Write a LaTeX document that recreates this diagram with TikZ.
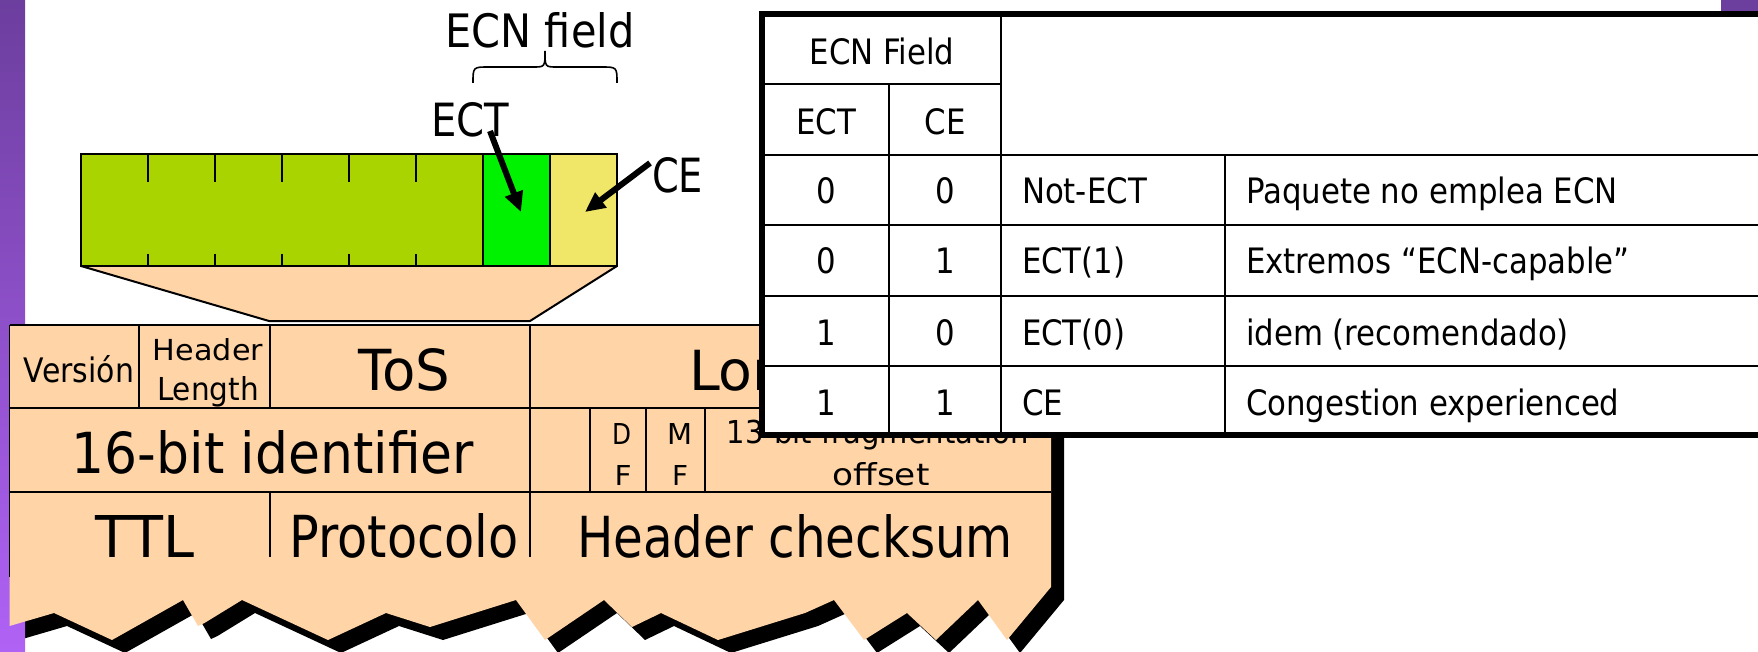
\documentclass[tikz,border=0pt]{standalone}
\usepackage{fontspec}
\usepackage{graphicx}
\setmainfont{DejaVu Sans}
\newfontfamily\tabfont[FakeStretch=0.88]{DejaVu Sans}
\usetikzlibrary{arrows.meta}

\definecolor{leaf}{RGB}{170,212,0}
\definecolor{ectgreen}{RGB}{0,242,0}
\definecolor{ceyellow}{RGB}{240,230,104}
\definecolor{peach}{RGB}{255,213,168}
\definecolor{plumtop}{RGB}{108,62,158}
\definecolor{plumbot}{RGB}{176,98,245}

% text squeezed into a given width and height (in px = pt)
\newcommand{\fitbox}[3]{\resizebox{#1pt}{#2pt}{#3}}

\tikzset{
  lbl/.style={inner sep=0pt, outer sep=0pt, anchor=base},
  tabtxt/.style={inner sep=0pt, outer sep=0pt, anchor=base,
                 font=\tabfont\fontsize{35}{40}\selectfont},
  gridline/.style={line width=1.5pt},
  tabline/.style={line width=2.2pt},
  tabframe/.style={line width=6pt},
  pointer/.style={line width=6pt, -{Triangle[length=20pt,width=18pt]}},
  torn/.style={insert path={
    (9.5,325) -- (1051,325) -- (1051,587) -- (1007,640) -- (978,600)
    -- (936,640) -- (907,613) -- (864,640) -- (834,600) -- (805,613)
    -- (718,640) -- (661,613) -- (632,627) -- (604,600) -- (545,640)
    -- (516,600) -- (430,627) -- (386,613) -- (328,640) -- (242,600)
    -- (204.5,623) -- (198,626) -- (183,600) -- (112,640) -- (54,613)
    -- (9.5,626) -- cycle}},
}

\begin{document}
\begin{tikzpicture}[x=1pt,y=-1pt]
\useasboundingbox (0,0) rectangle (1758,652);

% drop shadow of the torn header sheet
\fill[black, shift={(13,13)}, torn];

% slide decoration
\shade[top color=plumtop, bottom color=plumbot] (0,0) rectangle (25,652);
\fill[plumtop] (1721,0) rectangle (1758,11);

% torn IP header sheet
\fill[peach, torn];

% header grid
\draw[gridline] (9.5,325) -- (1051,325);
\draw[gridline] (9.5,325) -- (9.5,577);
\draw[gridline] (9.5,408) -- (1051,408);
\draw[gridline] (9.5,492) -- (1051,492);
\draw[gridline] (139,325) -- (139,408);
\draw[gridline] (270,325) -- (270,408);
\draw[gridline] (530,325) -- (530,408);
\draw[gridline] (530,408) -- (530,492);
\draw[gridline] (590,408) -- (590,492);
\draw[gridline] (646,408) -- (646,492);
\draw[gridline] (705,408) -- (705,492);
\draw[gridline] (270,492) -- (270,557);
\draw[gridline] (530,492) -- (530,557);

% header fields
\node[lbl] (ver) at (79,382) {\fitbox{110}{27}{Versión}};
\node[lbl] (hlA) at (208,360) {\fitbox{110}{22}{Header}};
\node[lbl] (hlB) at (208,400) {\fitbox{102}{24}{Length}};
\node[lbl] (tos) at (404,390) {\fitbox{92}{42}{ToS}};
\begin{scope}
  % the part of these fields that is not covered by the table
  \clip (0,0) rectangle (759,652) (759,437) rectangle (1051,652);
  \node[lbl, anchor=base west] (len) at (689,390) {\resizebox{!}{42pt}{Longitud}};
  \node[lbl] (fragA) at (878,443) {\fitbox{302}{24}{13-bit fragmentation}};
\end{scope}
\node[lbl] (ident) at (273,473) {\fitbox{402}{43}{16-bit identifier}};
\node[lbl] (dfA) at (622,444) {\fitbox{19}{21}{D}};
\node[lbl] (dfB) at (623,485) {\fitbox{17}{20}{F}};
\node[lbl] (mfA) at (680,444) {\fitbox{25}{21}{M}};
\node[lbl] (mfB) at (680,485) {\fitbox{16}{20}{F}};
\node[lbl] (fragB) at (881,485) {\fitbox{97}{23}{offset}};
\node[lbl] (ttl) at (145,557) {\fitbox{98}{42}{TTL}};
\node[lbl] (proto) at (404,557) {\fitbox{229}{44}{Protocolo}};
\node[lbl] (chk) at (795,557) {\fitbox{436}{43}{Header checksum}};

% ToS byte blown up
\filldraw[fill=peach, line width=2pt, line join=round]
  (81,266) -- (269,321) -- (530,321) -- (617,266);
\fill[leaf] (81,154) rectangle (483,266);
\fill[ectgreen] (483,154) rectangle (550,266);
\fill[ceyellow] (550,154) rectangle (617,266);
\draw[line width=1.8pt] (81,154) rectangle (617,266);
\draw[line width=1.8pt] (483,154) -- (483,266) (550,154) -- (550,266);
\foreach \x in {148,215,282,349,416}
  \draw[line width=2pt] (\x,154) -- (\x,182) (\x,254) -- (\x,266);

% brace and labels
\draw[line width=1.6pt] (473,83) .. controls (473,67) .. (489,67) -- (533,67)
  .. controls (545,67) .. (545,51) .. controls (545,67) .. (557,67)
  -- (601,67) .. controls (617,67) .. (617,83);
\node[lbl] (ecnLbl) at (540,48) {\fitbox{189}{35}{ECN field}};
\node[lbl] (ectLbl) at (470,137) {\fitbox{78}{34}{ECT}};
\node[lbl] (ceLbl) at (677.5,193) {\fitbox{51}{35}{CE}};

\coordinate (ectFrom) at (490,131);
\coordinate (ectTip) at (521,212);
\coordinate (ceFrom) at (650,163);
\coordinate (ceTip) at (585,212);
\draw[pointer] (ectFrom) -- (ectTip);
\draw[pointer] (ceFrom) -- (ceTip);

% ECN codepoint table
\fill[white] (762,14) rectangle (1780,435);
\draw[tabline] (762,84) -- (1001,84);
\draw[tabline] (762,155) -- (1780,155);
\draw[tabline] (762,225) -- (1780,225);
\draw[tabline] (762,296) -- (1780,296);
\draw[tabline] (762,366) -- (1780,366);
\draw[tabline] (889,84) -- (889,435);
\draw[tabline] (1001,14) -- (1001,435);
\draw[tabline] (1225,155) -- (1225,435);
\draw[tabframe] (762,14) rectangle (1780,435);

\node[tabtxt] (thEcn) at (882,65) {ECN Field};
\node[tabtxt] (thEct) at (826,135) {ECT};
\node[tabtxt] (thCe) at (945,135) {CE};

\node[tabtxt] (aA) at (826,204) {0};
\node[tabtxt] (aB) at (945,204) {0};
\node[tabtxt, anchor=base west] (aC) at (1022,204) {Not-ECT};
\node[tabtxt, anchor=base west] (aD) at (1246,204) {Paquete no emplea ECN};

\node[tabtxt] (bA) at (826,274) {0};
\node[tabtxt] (bB) at (945,274) {1};
\node[tabtxt, anchor=base west] (bC) at (1022,274) {ECT(1)};
\node[tabtxt, anchor=base west] (bD) at (1246,274) {Extremos “ECN-capable”};

\node[tabtxt] (cA) at (826,345) {1};
\node[tabtxt] (cB) at (945,345) {0};
\node[tabtxt, anchor=base west] (cC) at (1022,345) {ECT(0)};
\node[tabtxt, anchor=base west] (cD) at (1246,345) {idem (recomendado)};

\node[tabtxt] (dA) at (826,415) {1};
\node[tabtxt] (dB) at (945,415) {1};
\node[tabtxt, anchor=base west] (dC) at (1022,415) {CE};
\node[tabtxt, anchor=base west] (dD) at (1246,415) {Congestion experienced};
\end{tikzpicture}
\end{document}
